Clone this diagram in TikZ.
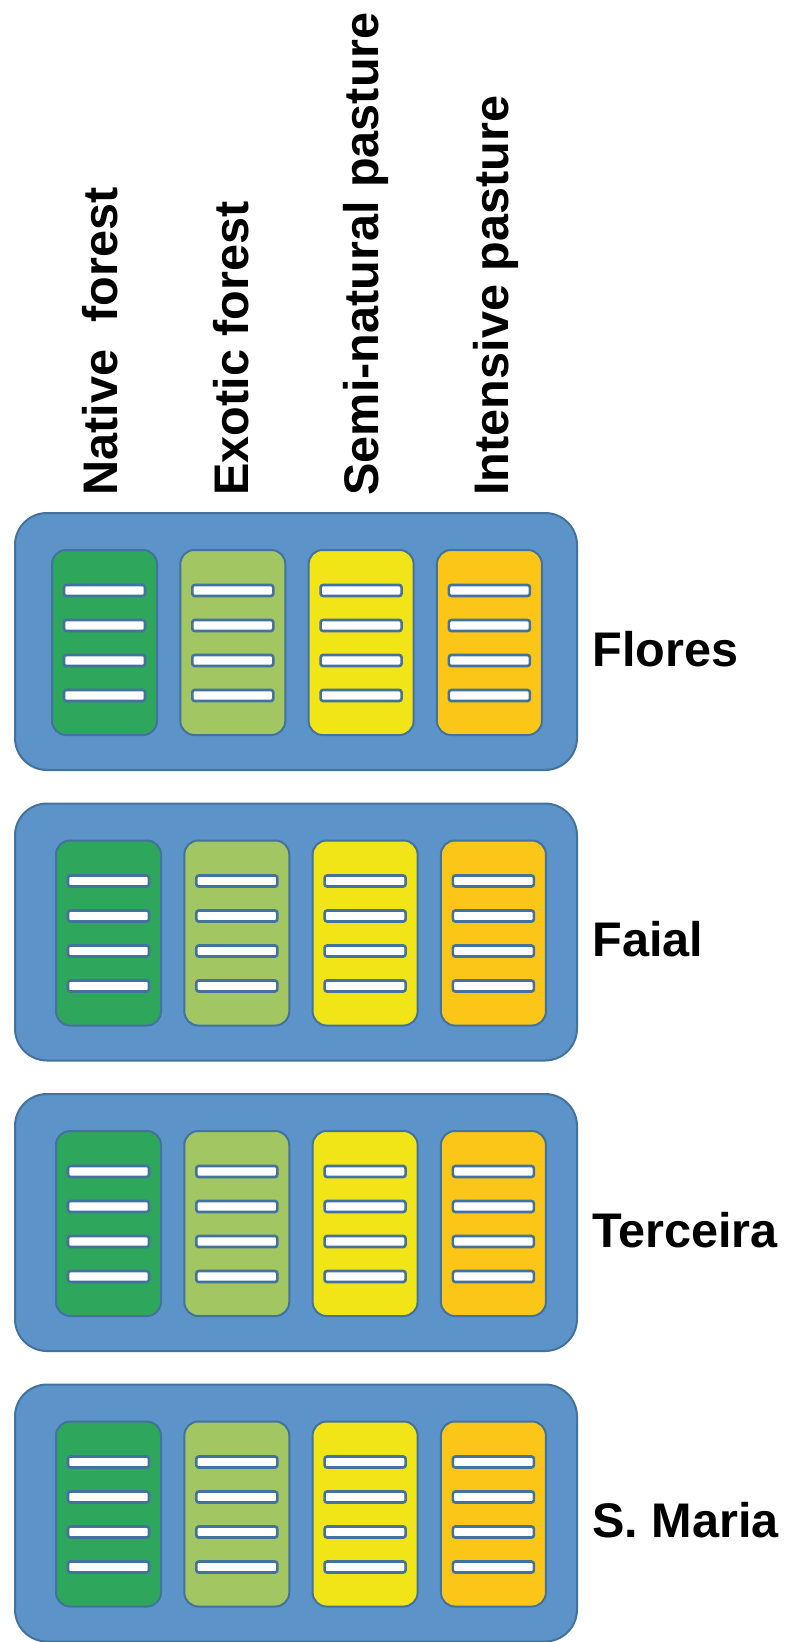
\documentclass[tikz,border=0pt]{standalone}
\usepackage{fontspec}
\setmainfont{Liberation Sans}
\definecolor{outerblue}{HTML}{5C93C8}
\definecolor{edgeblue}{HTML}{44729F}
\definecolor{cgreen}{HTML}{2EA65C}
\definecolor{clgreen}{HTML}{A2C661}
\definecolor{cyellow}{HTML}{F2E517}
\definecolor{corange}{HTML}{FBC618}
\begin{document}
\begin{tikzpicture}[x=0.5pt,y=-0.5pt,
  island/.style={fill=outerblue, draw=edgeblue, line width=1pt, rounded corners=16pt},
  column/.style={draw=edgeblue, line width=1pt, rounded corners=7pt},
  bar/.style={fill=white, draw=edgeblue, line width=1.3pt, rounded corners=1.2pt},
  islabel/.style={anchor=base west, inner sep=0pt, font=\fontsize{24.3}{28}\selectfont\bfseries},
  hdr/.style={rotate=90, anchor=base west, inner sep=0pt, font=\fontsize{24.3}{28}\selectfont\bfseries}]
\useasboundingbox (0,0) rectangle (787,1642);
% column headers
\node[hdr] (h1) at (117,496) {Native~~forest};
\node[hdr] (h2) at (248,496) {Exotic forest};
\node[hdr] (h3) at (378,496) {Semi-natural pasture};
\node[hdr] (h4) at (508,496) {Intensive pasture};
% island panels
\foreach \top/\name/\cx [count=\i] in {513/Flores/52, 803.5/Faial/56, 1094/Terceira/56, 1384.5/S. Maria/56} {
  \draw[island] (15,\top) rectangle (577,\top+257);
  \foreach \c/\col in {0/cgreen,1/clgreen,2/cyellow,3/corange} {
    \pgfmathsetmacro\xl{\cx+128.3*\c}
    \draw[column, fill=\col] (\xl,\top+37) rectangle (\xl+105,\top+222);
    \foreach \k in {0,...,3}
      \draw[bar] (\xl+12,\top+72+35*\k) rectangle (\xl+93,\top+83+35*\k);
  }
  \node[islabel] (lab\i) at (592,\top+153) {\name};
}
\end{tikzpicture}
\end{document}
